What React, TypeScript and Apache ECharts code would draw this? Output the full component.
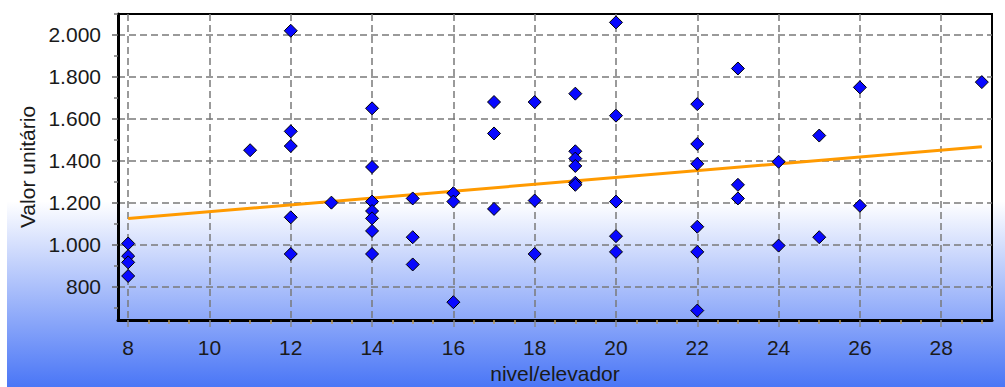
import React, { useEffect, useRef } from "react";
import * as echarts from "echarts";

// Data
const nivel: number[] = [
  8, 8, 8, 8,
  11,
  12, 12, 12, 12, 12,
  13,
  14, 14, 14, 14, 14, 14, 14,
  15, 15, 15,
  16, 16, 16,
  17, 17, 17,
  18, 18, 18,
  19, 19, 19, 19, 19, 19,
  20, 20, 20, 20, 20,
  22, 22, 22, 22, 22, 22,
  23, 23, 23,
  24, 24,
  25, 25,
  26, 26,
  29,
];
const valor: number[] = [
  1005, 945, 915, 850,
  1450,
  2020, 1540, 1470, 1130, 955,
  1200,
  1650, 1370, 1205, 1160, 1125, 1065, 955,
  1220, 1035, 905,
  1245, 1205, 725,
  1680, 1530, 1170,
  1680, 1210, 955,
  1720, 1445, 1410, 1375, 1295, 1285,
  2060, 1615, 1205, 1040, 965,
  1670, 1480, 1385, 1085, 965, 685,
  1840, 1285, 1220,
  1395, 995,
  1520, 1035,
  1750, 1185,
  1775,
];
const trendX: number[] = [8, 29];
const trendY: number[] = [1124, 1467];

const xTicks: number[] = [8, 10, 12, 14, 16, 18, 20, 22, 24, 26, 28];
const yTicks: number[] = [800, 1000, 1200, 1400, 1600, 1800, 2000];
const xMinorTicks: number[] = [];
for (let i = 0; i < xTicks.length; i++) {
  xMinorTicks.push(xTicks[i] + 0.5, xTicks[i] + 1, xTicks[i] + 1.5);
}
const yMinorTicks: number[] = [700, 900, 1100, 1300, 1500, 1700, 1900, 2100];

const FONT = '"Liberation Sans", Arial, sans-serif';

function fmtThousands(v: number): string {
  if (v >= 1000) {
    const th = Math.floor(v / 1000);
    const rest = String(Math.round(v % 1000)).padStart(3, "0");
    return `${th}.${rest}`;
  }
  return String(v);
}

export default function App() {
  const ref = useRef<HTMLDivElement>(null);

  useEffect(() => {
    if (!ref.current) return;
    const chart = echarts.init(ref.current, undefined, { renderer: "svg" });
    const points = nivel.map((x, i) => [x, valor[i]]);
    const trend = trendX.map((x, i) => [x, trendY[i]]);

    const xMin = 7.75;
    const xMax = 29.25;
    const yMin = 640;
    const yMax = 2100;

    chart.setOption({
      animation: false,
      graphic: [
        {
          type: "rect",
          z: -100,
          silent: true,
          shape: { x: 7, y: 0, width: 998, height: 387 },
          style: {
            fill: new echarts.graphic.LinearGradient(0, 0, 0, 1, [
              { offset: 0, color: "#ffffff" },
              { offset: 0.52, color: "#ffffff" },
              { offset: 1, color: "#4a76f6" },
            ]),
          },
        },
      ],
      grid: {
        left: 118,
        top: 14,
        right: 13,
        bottom: 67,
        show: true,
        borderColor: "#000",
        borderWidth: 2,
        backgroundColor: "transparent",
        containLabel: false,
        outerBoundsMode: "none",
      },
      xAxis: [
        {
          type: "value",
          min: xMin,
          max: xMax,
          name: "nivel/elevador",
          nameLocation: "middle",
          nameGap: 41,
          nameTextStyle: { fontFamily: FONT, fontSize: 21, color: "#1a1a1a" },
          axisLine: { show: true, onZero: false, lineStyle: { color: "#000", width: 3 } },
          axisTick: {
            show: true,
            length: 10,
            customValues: xTicks,
            lineStyle: { color: "#888", type: [7, 4], width: 1.5 },
          },
          axisLabel: {
            customValues: xTicks,
            fontFamily: FONT,
            fontSize: 21,
            color: "#1a1a1a",
            margin: 17,
          },
          splitLine: {
            show: true,
            lineStyle: { color: "#7a7a7a", type: [7, 4], width: 1.5 },
          },
        },
        {
          type: "value",
          position: "bottom",
          min: xMin,
          max: xMax,
          axisLine: { show: false },
          axisTick: {
            show: true,
            length: 4,
            customValues: xMinorTicks,
            lineStyle: { color: "#b89a5a", width: 1.5 },
          },
          axisLabel: { show: false },
          splitLine: { show: false },
        },
      ],
      yAxis: [
        {
          type: "value",
          min: yMin,
          max: yMax,
          name: "Valor unitário",
          nameLocation: "middle",
          nameGap: 80,
          nameTextStyle: { fontFamily: FONT, fontSize: 21, color: "#1a1a1a" },
          axisLine: { show: true, onZero: false, lineStyle: { color: "#000", width: 3 } },
          axisTick: {
            show: true,
            length: 6,
            customValues: yTicks,
            lineStyle: { color: "#666", width: 1.5 },
          },
          axisLabel: {
            customValues: yTicks,
            fontFamily: FONT,
            fontSize: 21,
            color: "#1a1a1a",
            margin: 17,
            formatter: (v: number) => fmtThousands(v),
          },
          splitLine: {
            show: true,
            lineStyle: { color: "#7a7a7a", type: [7, 4], width: 1.5 },
          },
        },
        {
          type: "value",
          position: "left",
          min: yMin,
          max: yMax,
          axisLine: { show: false },
          axisTick: {
            show: true,
            length: 4,
            customValues: yMinorTicks,
            lineStyle: { color: "#777", width: 1.5 },
          },
          axisLabel: { show: false },
          splitLine: { show: false },
        },
      ],
      series: [
        {
          type: "line",
          data: trend,
          showSymbol: false,
          symbol: "none",
          lineStyle: { color: "#ff9a00", width: 3 },
          z: 3,
          silent: true,
        },
        {
          type: "scatter",
          data: points,
          symbol: "diamond",
          symbolSize: 13,
          itemStyle: { color: "#0808ff", borderColor: "#000", borderWidth: 1, opacity: 1 },
          z: 5,
        },
      ],
    });

    return () => {
      chart.dispose();
    };
  }, []);

  return (
    <div
      ref={ref}
      style={{ position: "absolute", left: 0, top: 0, width: 1005, height: 387 }}
    />
  );
}
